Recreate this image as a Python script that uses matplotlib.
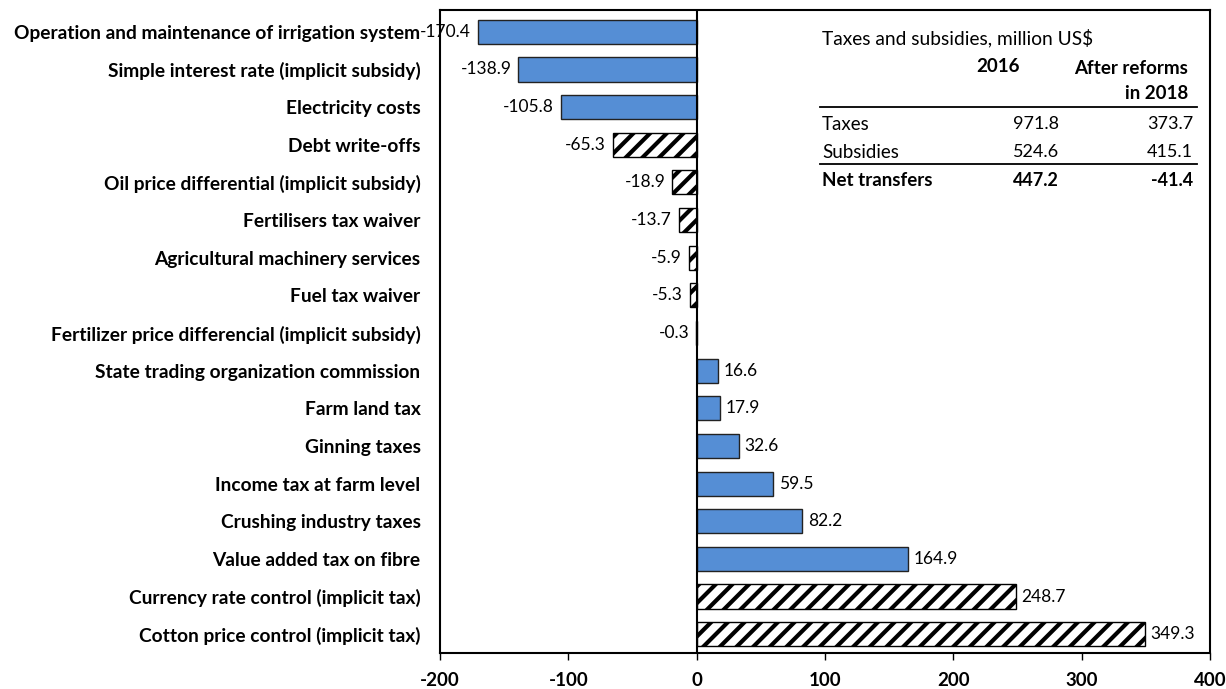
import matplotlib
matplotlib.use("Agg")
import matplotlib.pyplot as plt

categories = [
    "Operation and maintenance of irrigation system",
    "Simple interest rate (implicit subsidy)",
    "Electricity costs",
    "Debt write-offs",
    "Oil price differential (implicit subsidy)",
    "Fertilisers tax waiver",
    "Agricultural machinery services",
    "Fuel tax waiver",
    "Fertilizer price differencial (implicit subsidy)",
    "State trading organization commission",
    "Farm land tax",
    "Ginning taxes",
    "Income tax at farm level",
    "Crushing industry taxes",
    "Value added tax on fibre",
    "Currency rate control (implicit tax)",
    "Cotton price control (implicit tax)",
]
values = [-170.4, -138.9, -105.8, -65.3, -18.9, -13.7, -5.9, -5.3, -0.3,
          16.6, 17.9, 32.6, 59.5, 82.2, 164.9, 248.7, 349.3]
hatched = [False, False, False, True, True, True, True, True, True,
           False, False, False, False, False, False, True, True]
xticks = [-200, -100, 0, 100, 200, 300, 400]

table_title = "Taxes and subsidies, million US$"
table_cols = ["2016", "After reforms\nin 2018"]
table_rows = ["Taxes", "Subsidies", "Net transfers"]
table_2016 = [971.8, 524.6, 447.2]
table_2018 = [373.7, 415.1, -41.4]

FONT = ["Lato", "DejaVu Sans"]
plt.rcParams["font.family"] = FONT
plt.rcParams["hatch.linewidth"] = 3.0

W, H = 1226, 689
fig = plt.figure(figsize=(W / 100, H / 100), dpi=100)
ax = fig.add_axes([440 / W, 1 - 653 / H, (1210 - 440) / W, (653 - 10) / H])

blue = "#558ED5"
ypos = list(range(len(categories)))
for y, v, h in zip(ypos, values, hatched):
    if h:
        ax.barh(y, v, height=0.64, color="white", edgecolor="black",
                linewidth=1.0, hatch="//")
    else:
        ax.barh(y, v, height=0.64, color=blue, edgecolor="#222222",
                linewidth=1.0)
    off = 4 if v >= 0 else -5
    ax.annotate(f"{v:.1f}", (v, y), xytext=(off, 0), textcoords="offset points",
                ha="left" if v >= 0 else "right", va="center", fontsize=12.5)

ax.axvline(0, color="black", lw=1.5, zorder=5)
ax.set_xlim(-200, 400)
ax.set_ylim(16.5, -0.58)
ax.set_yticks(ypos)
ax.set_yticklabels(categories, fontsize=13.8, fontweight="bold")
ax.tick_params(axis="y", length=0, pad=14)
ax.set_xticks(xticks)
ax.set_xticklabels([str(t) for t in xticks], fontsize=13.5, fontweight="bold")
ax.tick_params(axis="x", direction="out", length=5, width=1, pad=9)
for s in ax.spines.values():
    s.set_linewidth(1.5)

# inset table
def fx(px):
    return px / W
def fy(py):
    return 1 - py / H

fig.text(fx(822), fy(38), table_title, fontsize=13.8, ha="left", va="center")
fig.text(fx(1020), fy(67), table_cols[0], fontsize=13.5, fontweight="bold", ha="right", va="center")
fig.text(fx(1188), fy(81), table_cols[1], fontsize=13.5, fontweight="bold", ha="right",
         va="center", linespacing=1.6)
fig.add_artist(plt.Line2D([fx(820), fx(1197)], [fy(107), fy(107)], color="black", lw=1.3))
fig.add_artist(plt.Line2D([fx(820), fx(1197)], [fy(164), fy(164)], color="black", lw=1.3))
row_y = [124, 152, 181]
for i, (r, a, b) in enumerate(zip(table_rows, table_2016, table_2018)):
    w = "bold" if i == 2 else "normal"
    fig.text(fx(822), fy(row_y[i]), r, fontsize=13.5, fontweight=w, ha="left", va="center")
    fig.text(fx(1059), fy(row_y[i]), f"{a:.1f}", fontsize=13, fontweight=w, ha="right", va="center")
    fig.text(fx(1193), fy(row_y[i]), f"{b:.1f}", fontsize=13, fontweight=w, ha="right", va="center")

fig.savefig("out.png", dpi=100)
